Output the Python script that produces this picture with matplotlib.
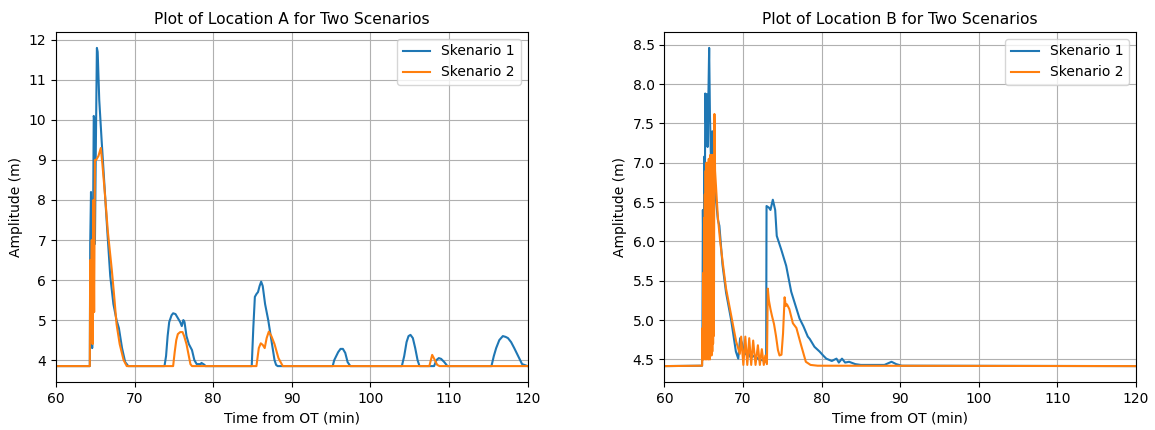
import matplotlib
matplotlib.use("Agg")
import matplotlib.pyplot as plt

# Location A
t_a1 = [60, 64.3, 64.35, 64.45, 64.55, 64.6, 64.7, 64.8, 64.9, 64.95, 65.05, 65.2, 65.3,
        65.5, 65.8, 66.2, 66.5, 66.9, 67.3, 67.7, 68.0, 68.4, 68.8, 69.2,
        73.8, 74.0, 74.2, 74.4, 74.7, 74.9, 75.2, 75.5, 75.8, 76.0, 76.2, 76.35, 76.6,
        76.9, 77.3, 77.6, 77.9, 78.4, 78.5, 78.9, 79.0,
        84.9, 85.1, 85.3, 85.5, 85.7, 85.9, 86.1, 86.3, 86.6, 87.0, 87.4, 87.8, 88.0, 88.2,
        95.2, 95.4, 95.6, 95.9, 96.2, 96.5, 96.8, 97.1, 97.45,
        104.0, 104.3, 104.6, 104.85, 105.1, 105.4, 105.7, 106.0, 106.25,
        108.1, 108.4, 108.7, 109.0, 109.4, 109.8,
        115.4, 115.7, 116.0, 116.4, 116.85, 117.2, 117.5, 117.9, 118.3, 118.8, 119.3, 120]
amp_a1 = [3.85, 3.85, 6.9, 8.2, 6.9, 4.3, 7.0, 10.1, 10.0, 6.9, 9.0, 11.8, 11.7,
          10.5, 9.5, 8.25, 7.3, 6.1, 5.4, 5.0, 4.8, 4.3, 3.95, 3.85,
          3.85, 4.1, 4.6, 4.95, 5.12, 5.17, 5.15, 5.05, 4.95, 4.85, 5.0, 4.95, 4.6,
          4.4, 4.25, 4.0, 3.9, 3.9, 3.93, 3.88, 3.85,
          3.85, 4.8, 5.58, 5.65, 5.7, 5.85, 5.96, 5.85, 5.4, 5.0, 4.5, 4.0, 3.88, 3.85,
          3.85, 4.0, 4.08, 4.2, 4.28, 4.28, 4.18, 3.95, 3.85,
          3.85, 4.1, 4.45, 4.6, 4.63, 4.55, 4.3, 4.0, 3.85,
          3.85, 4.0, 4.05, 4.03, 3.95, 3.85,
          3.85, 4.1, 4.3, 4.5, 4.6, 4.58, 4.55, 4.45, 4.3, 4.1, 3.9, 3.85]

t_a2 = [60, 64.3, 64.35, 64.45, 64.55, 64.65, 64.75, 64.85, 64.95, 65.1, 65.4, 65.7,
        65.9, 66.2, 66.6, 67.1, 67.4, 67.7, 68.1, 68.6, 69.0,
        74.9, 75.1, 75.3, 75.5, 75.8, 76.1, 76.3, 76.6, 76.9, 77.1, 77.3,
        85.5, 85.8, 86.05, 86.3, 86.55, 86.8, 87.07, 87.4, 87.8, 88.3, 88.85,
        107.5, 107.86, 108.2, 108.5, 108.8, 120]
amp_a2 = [3.85, 3.85, 6.5, 5.2, 7.0, 4.4, 8.0, 5.2, 9.0, 9.0, 9.1, 9.3,
          8.9, 8.2, 7.2, 6.25, 5.6, 4.9, 4.4, 4.0, 3.85,
          3.85, 4.2, 4.5, 4.65, 4.7, 4.7, 4.6, 4.4, 4.1, 3.9, 3.85,
          3.85, 4.3, 4.42, 4.38, 4.3, 4.55, 4.71, 4.6, 4.4, 4.05, 3.85,
          3.85, 4.13, 4.0, 3.88, 3.85, 3.85]

# Location B
t_b1 = [60, 64.8, 64.85, 64.9, 65.0, 65.1, 65.15, 65.2, 65.3, 65.4, 65.5, 65.7, 65.8,
        65.95, 66.1, 66.3, 66.5, 66.8, 67.0, 67.4, 67.85, 68.5, 69.1, 69.4, 69.64,
        69.9, 70.2, 70.6, 71.0, 71.5, 72.0, 72.5, 72.95, 73.0, 73.3, 73.5, 73.8, 74.1,
        74.3, 74.86, 75.5, 76.14, 76.7, 77.2, 77.7, 78.25, 78.5, 79.1, 79.75, 80.2,
        80.6, 81.3, 81.9, 82.2, 82.6, 83.0, 83.5, 84.3, 85.0, 88.0, 88.9, 89.5, 90.2, 120]
amp_b1 = [4.415, 4.42, 5.0, 6.4, 5.5, 7.08, 6.3, 7.88, 7.5, 7.87, 7.2, 8.46, 7.6,
          6.95, 7.4, 7.0, 6.6, 6.28, 6.2, 5.7, 5.35, 5.0, 4.6, 4.51, 4.77,
          4.7, 4.56, 4.6, 4.52, 4.55, 4.5, 4.49, 4.47, 6.45, 6.43, 6.4, 6.53, 6.4,
          6.07, 5.9, 5.69, 5.36, 5.18, 5.02, 4.92, 4.79, 4.76, 4.66, 4.6, 4.55,
          4.51, 4.48, 4.51, 4.46, 4.51, 4.46, 4.47, 4.44, 4.43, 4.43, 4.47, 4.44, 4.42, 4.415]

t_b2 = [60, 64.8, 64.85, 64.9, 64.95, 65.0, 65.05, 65.1, 65.15, 65.2, 65.25, 65.3,
        65.35, 65.4, 65.45, 65.5, 65.55, 65.6, 65.65, 65.7, 65.75, 65.8, 65.85,
        65.9, 65.95, 66.0, 66.05, 66.1, 66.15, 66.2, 66.25, 66.3, 66.37,
        66.45, 66.8, 67.1, 67.43, 67.85, 68.5, 69.13, 69.6, 69.77, 70.05, 70.3,
        70.55, 70.8, 71.05, 71.3, 71.6, 71.9, 72.15, 72.4, 72.65, 72.85, 73.05,
        73.16, 73.3, 73.5, 73.7, 73.95, 74.2, 74.45, 74.65, 74.9, 75.1, 75.3,
        75.45, 75.6, 75.9, 76.35, 76.8, 77.4, 78.0, 78.6, 79.5, 120]
amp_b2 = [4.415, 4.42, 4.9, 4.5, 5.6, 4.5, 6.3, 4.55, 6.6, 4.5, 6.9, 4.6,
          7.0, 4.5, 6.95, 4.55, 7.0, 4.5, 7.05, 4.6, 7.0, 4.5, 7.1,
          4.6, 7.0, 4.55, 7.1, 4.6, 7.05, 4.7, 7.1, 4.8, 7.62,
          6.9, 6.32, 6.0, 5.73, 5.4, 5.06, 4.73, 4.57, 4.79, 4.43, 4.79,
          4.43, 4.77, 4.43, 4.74, 4.43, 4.68, 4.43, 4.63, 4.43, 4.55, 4.44,
          5.4, 5.25, 5.14, 5.05, 4.95, 4.8, 4.62, 4.55, 4.56, 4.83, 5.29,
          5.18, 5.2, 5.14, 4.96, 4.9, 4.68, 4.47, 4.43, 4.42, 4.415]

fig, axes = plt.subplots(1, 2, figsize=(11.55, 4.3), dpi=100)
fig.subplots_adjust(left=0.0485, right=0.9835, bottom=0.1116, top=0.9256, wspace=0.29)

panels = [
    (axes[0], "A", t_a1, amp_a1, t_a2, amp_a2),
    (axes[1], "B", t_b1, amp_b1, t_b2, amp_b2),
]
for ax, loc, t1, y1, t2, y2 in panels:
    ax.plot(t1, y1, label="Skenario 1", linewidth=1.5)
    ax.plot(t2, y2, label="Skenario 2", linewidth=1.5)
    ax.set_xlim(60, 120)
    ax.set_title(f"Plot of Location {loc} for Two Scenarios", fontsize=11.2)
    ax.set_xlabel("Time from OT (min)")
    ax.set_ylabel("Amplitude (m)")
    ax.grid(True)
    ax.legend(loc="upper right")

fig.savefig("out.png")
